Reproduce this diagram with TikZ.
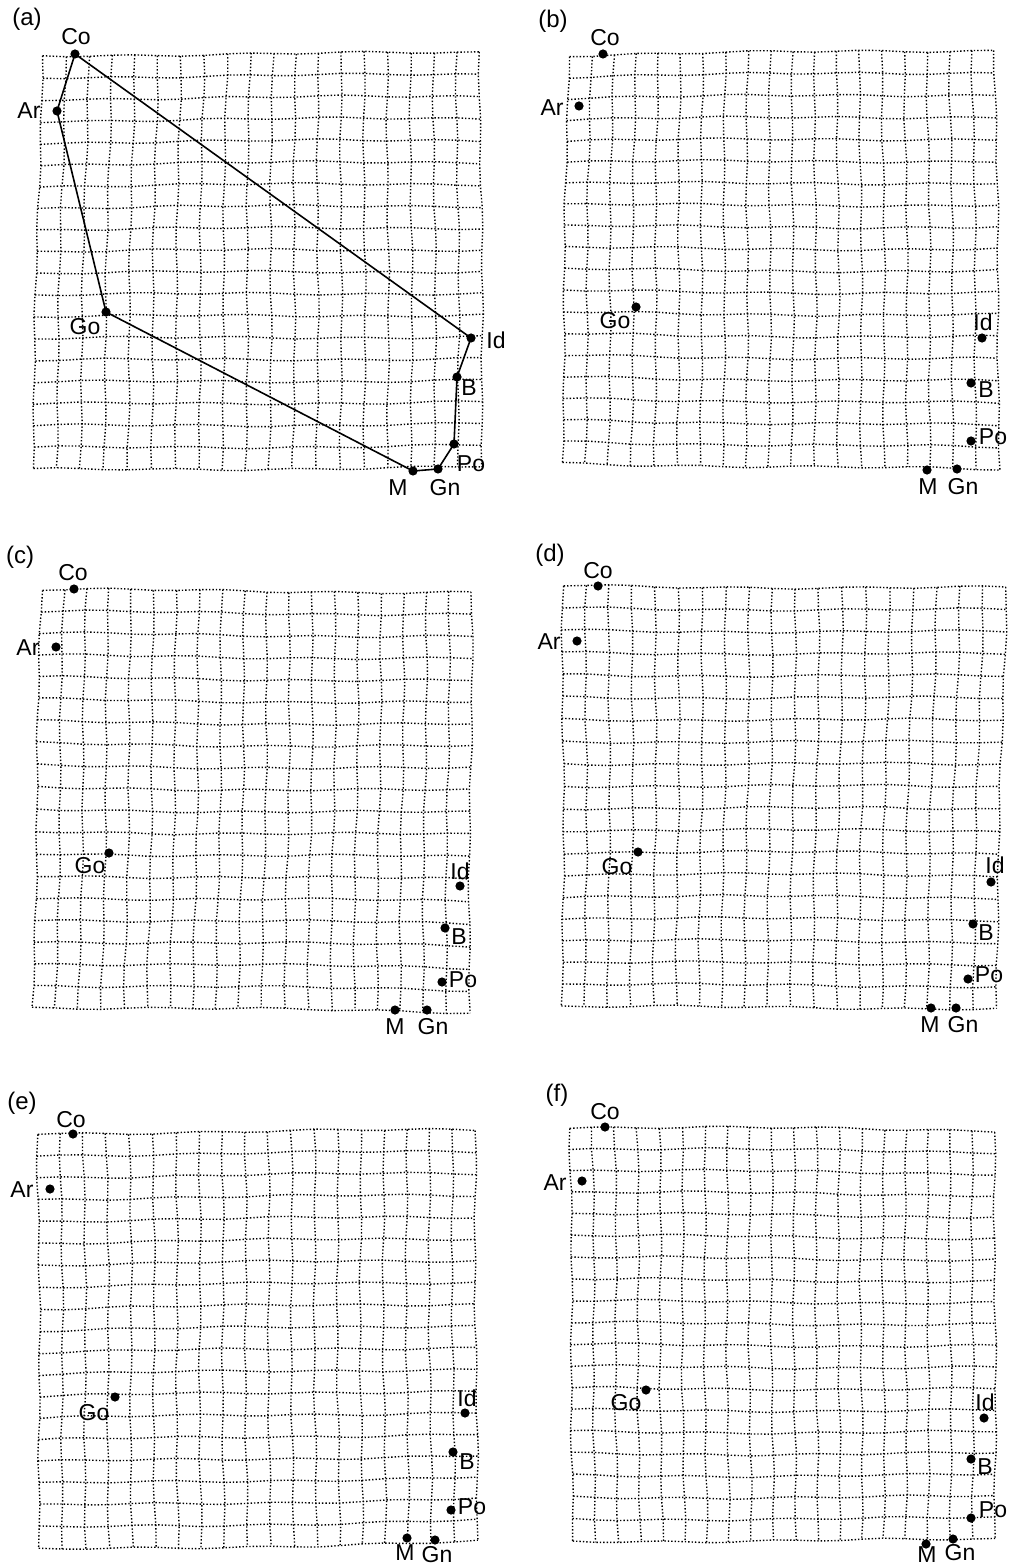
\documentclass[tikz,border=0pt]{standalone}
\usepackage{fontspec}
\setmainfont{Liberation Sans}
\newcommand{\warpgrid}[9]{%
 \foreach \j in {0,...,19}{%
  \draw[gridline] plot[variable=\i, samples at={0,...,19}]
   ({(1-\i/19)*(1-\j/19)*(#1)+(\i/19)*(1-\j/19)*(#3)+(1-\i/19)*(\j/19)*(#5)+(\i/19)*(\j/19)*(#7)+1.0*sin(\i*47+\j*83+#9)+0.9*sin(\j*23+\i*11+2*#9)},
    {(1-\i/19)*(1-\j/19)*(#2)+(\i/19)*(1-\j/19)*(#4)+(1-\i/19)*(\j/19)*(#6)+(\i/19)*(\j/19)*(#8)+1.0*sin(\i*71+\j*29+#9)+1.2*sin(\i*17+\j*13+3*#9)});
 }%
 \foreach \i in {0,...,19}{%
  \draw[gridline] plot[variable=\j, samples at={0,...,19}]
   ({(1-\i/19)*(1-\j/19)*(#1)+(\i/19)*(1-\j/19)*(#3)+(1-\i/19)*(\j/19)*(#5)+(\i/19)*(\j/19)*(#7)+1.0*sin(\i*47+\j*83+#9)+0.9*sin(\j*23+\i*11+2*#9)},
    {(1-\i/19)*(1-\j/19)*(#2)+(\i/19)*(1-\j/19)*(#4)+(1-\i/19)*(\j/19)*(#6)+(\i/19)*(\j/19)*(#8)+1.0*sin(\i*71+\j*29+#9)+1.2*sin(\i*17+\j*13+3*#9)});
 }%
}
\newcommand{\lmk}[6]{%
 \node[landmark] (#1-#2) at (#3,#4) {};
 \node[lbl] (#1-#2-l) at (#5,#6) {#2};
}
\begin{document}
\begin{tikzpicture}[x=0.5pt,y=-0.5pt,
  gridline/.style={line width=0.7pt, dash pattern=on 0.7pt off 1.0pt, black},
  landmark/.style={circle, fill=black, draw=none, inner sep=0pt, minimum size=4.6pt},
  lbl/.style={inner sep=0pt, font=\fontsize{11.5}{13}\selectfont},
  panellbl/.style={inner sep=0pt, font=\fontsize{12}{14}\selectfont},
  outline/.style={line width=0.8pt, black, line join=round}]
\useasboundingbox (0,0) rectangle (1011,1566);
\fill[white] (0,0) rectangle (1011,1566);

% ---------- panel (a)
\node[panellbl] (pa) at (27,19) {(a)};
\warpgrid{42}{55}{480}{53}{32}{470}{483}{467}{10}
\lmk{a}{Co}{75}{54}{76}{37}
\lmk{a}{Ar}{57}{111}{29}{111}
\lmk{a}{Go}{106}{312}{85}{327}
\lmk{a}{Id}{471}{338}{496}{340}
\lmk{a}{B}{457}{377}{469}{388}
\lmk{a}{Po}{454}{444}{471}{464}
\lmk{a}{Gn}{438}{469}{445}{488}
\lmk{a}{M}{413}{471}{398}{488}
\draw[outline] (a-Co.center) -- (a-Ar.center) -- (a-Go.center) -- (a-M.center) -- (a-Gn.center) -- (a-Po.center) -- (a-B.center) -- (a-Id.center) -- cycle;

% ---------- panel (b)
\node[panellbl] (pb) at (553,21) {(b)};
\warpgrid{568}{55}{995}{50}{562}{463}{1000}{470}{40}
\lmk{b}{Co}{603}{54}{605}{38}
\lmk{b}{Ar}{579}{106}{552}{108}
\lmk{b}{Go}{636}{307}{615}{321}
\lmk{b}{Id}{982}{338}{983}{322}
\lmk{b}{B}{971}{383}{986}{390}
\lmk{b}{Po}{971}{441}{993}{437}
\lmk{b}{M}{927}{470}{928}{487}
\lmk{b}{Gn}{957}{469}{963}{487}

% ---------- panel (c)
\node[panellbl] (pc) at (20,557) {(c)};
\warpgrid{41}{590}{472}{592}{33}{1007}{469}{1012}{70}
\lmk{c}{Co}{74}{589}{73}{573}
\lmk{c}{Ar}{56}{647}{28}{648}
\lmk{c}{Go}{109}{853}{90}{866}
\lmk{c}{Id}{460}{886}{460}{871}
\lmk{c}{B}{445}{928}{459}{937}
\lmk{c}{Po}{442}{982}{463}{980}
\lmk{c}{M}{395}{1010}{395}{1027}
\lmk{c}{Gn}{427}{1010}{433}{1027}

% ---------- panel (d)
\node[panellbl] (pd) at (550,555) {(d)};
\warpgrid{563}{586}{1006}{588}{563}{1007}{995}{1008}{100}
\lmk{d}{Co}{598}{586}{598}{571}
\lmk{d}{Ar}{577}{641}{549}{642}
\lmk{d}{Go}{638}{852}{617}{867}
\lmk{d}{Id}{991}{882}{995}{865}
\lmk{d}{B}{973}{924}{986}{933}
\lmk{d}{Po}{968}{979}{989}{975}
\lmk{d}{M}{931}{1008}{930}{1025}
\lmk{d}{Gn}{956}{1008}{963}{1025}

% ---------- panel (e)
\node[panellbl] (pe) at (22,1103) {(e)};
\warpgrid{38}{1133}{475}{1130}{40}{1550}{477}{1542}{130}
\lmk{e}{Co}{73}{1134}{71}{1120}
\lmk{e}{Ar}{50}{1189}{22}{1190}
\lmk{e}{Go}{115}{1397}{94}{1413}
\lmk{e}{Id}{465}{1413}{467}{1398}
\lmk{e}{B}{453}{1452}{467}{1462}
\lmk{e}{Po}{451}{1510}{472}{1507}
\lmk{e}{M}{407}{1538}{405}{1553}
\lmk{e}{Gn}{435}{1540}{437}{1555}

% ---------- panel (f)
\node[panellbl] (pf) at (557,1095) {(f)};
\warpgrid{570}{1127}{995}{1130}{573}{1541}{995}{1540}{160}
\lmk{f}{Co}{605}{1127}{605}{1112}
\lmk{f}{Ar}{582}{1181}{555}{1183}
\lmk{f}{Go}{646}{1390}{626}{1403}
\lmk{f}{Id}{984}{1418}{985}{1402}
\lmk{f}{B}{971}{1459}{985}{1467}
\lmk{f}{Po}{971}{1518}{993}{1510}
\lmk{f}{M}{926}{1544}{927}{1555}
\lmk{f}{Gn}{953}{1539}{960}{1553}
\end{tikzpicture}
\end{document}
